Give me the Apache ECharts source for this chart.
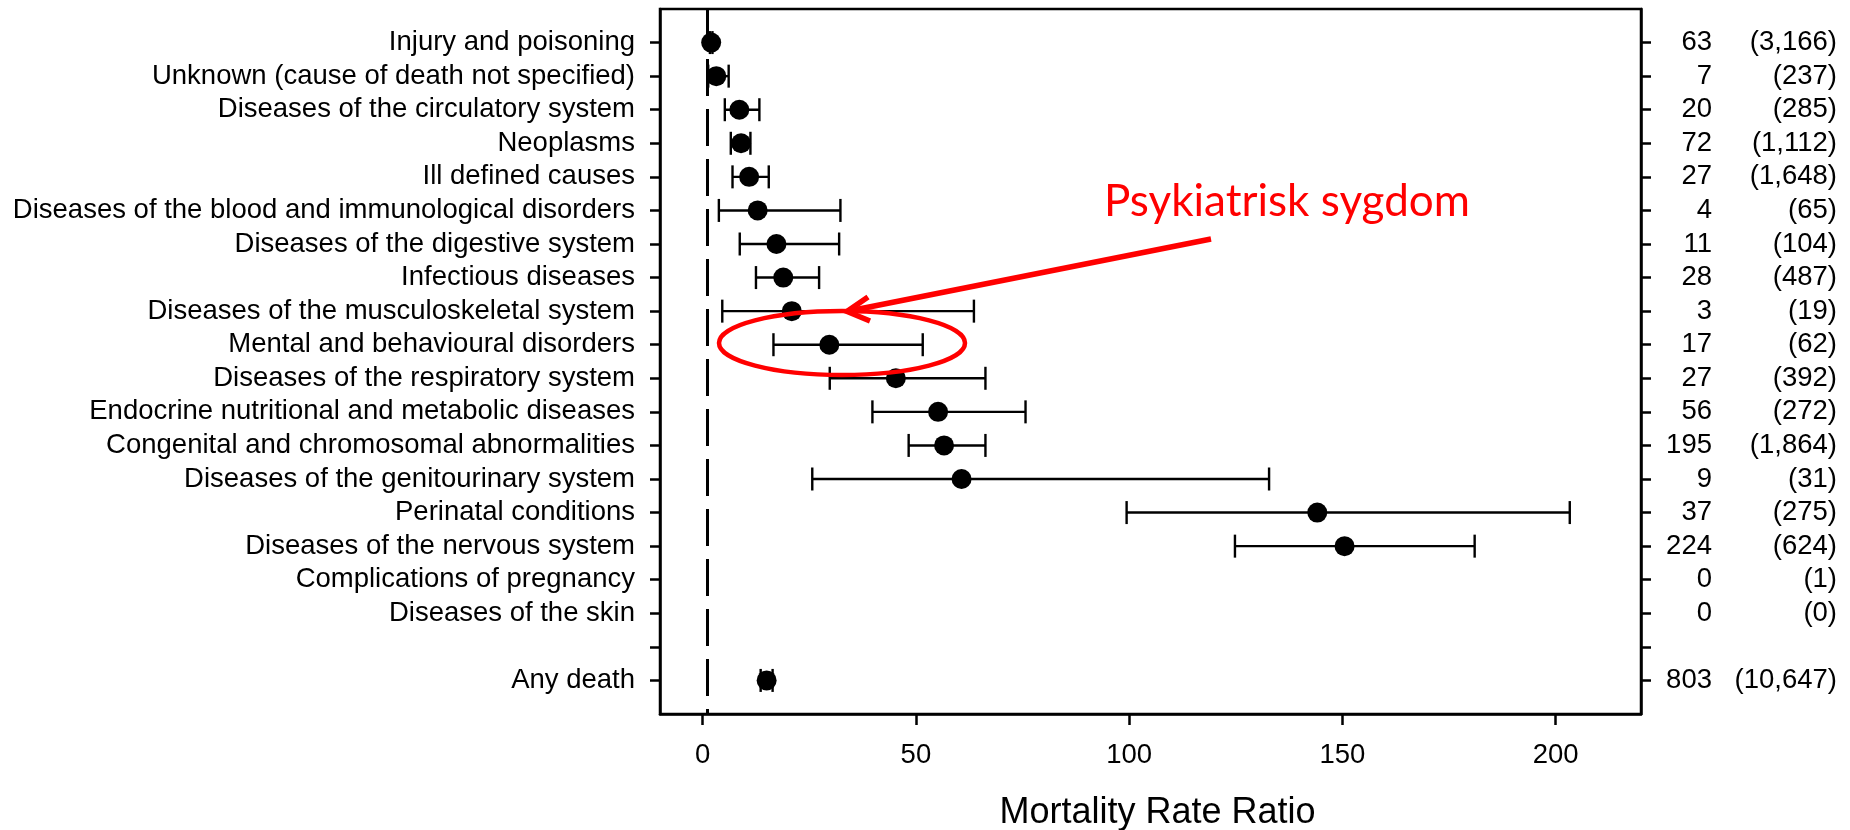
<!DOCTYPE html>
<html>
<head>
<meta charset="utf-8">
<script src="https://cdn.jsdelivr.net/npm/echarts@6/dist/echarts.min.js"></script>
<style>
  html, body { margin: 0; padding: 0; background: #fff; }
  #chart { width: 1850px; height: 830px; }
</style>
</head>
<body>
<div id="chart"></div>
<script>
// rows from top to bottom (row 19 is an empty spacer)
const causes = [
  'Injury and poisoning',
  'Unknown (cause of death not specified)',
  'Diseases of the circulatory system',
  'Neoplasms',
  'Ill defined causes',
  'Diseases of the blood and immunological disorders',
  'Diseases of the digestive system',
  'Infectious diseases',
  'Diseases of the musculoskeletal system',
  'Mental and behavioural disorders',
  'Diseases of the respiratory system',
  'Endocrine nutritional and metabolic diseases',
  'Congenital and chromosomal abnormalities',
  'Diseases of the genitourinary system',
  'Perinatal conditions',
  'Diseases of the nervous system',
  'Complications of pregnancy',
  'Diseases of the skin',
  '',
  'Any death'
]
const deaths = ['63', '7', '20', '72', '27', '4', '11', '28', '3', '17', '27', '56', '195', '9', '37', '224', '0', '0', '', '803']
const refDeaths = ['(3,166)', '(237)', '(285)', '(1,112)', '(1,648)', '(65)', '(104)', '(487)', '(19)', '(62)', '(392)', '(272)', '(1,864)', '(31)', '(275)', '(624)', '(1)', '(0)', '', '(10,647)']

// mortality rate ratio with 95% CI
const mrr   = [2.0, 3.2, 8.6, 9.0, 10.9, 12.9, 17.3, 18.9, 20.9, 29.7, 45.3, 55.2, 56.6, 60.7, 144.1, 150.5, null, null, null, 15.0]
const lower = [1.7, 1.3, 5.2, 6.6, 7.0, 3.8, 8.7, 12.5, 4.6, 16.6, 29.8, 39.8, 48.3, 25.7, 99.4, 124.8, null, null, null, 13.6]
const upper = [2.3, 6.1, 13.3, 11.2, 15.5, 32.3, 32.0, 27.3, 63.6, 51.6, 66.3, 75.7, 66.3, 132.8, 203.3, 181.0, null, null, null, 16.4]

const xTicks = [0, 50, 100, 150, 200]
const rowTicks = causes.map((c, i) => i + 1)

const pointData = []
const ciData = []
mrr.forEach((v, i) => {
  if (v == null) return
  pointData.push([v, i + 1])
  ciData.push([lower[i], upper[i], i + 1])
})

const chart = echarts.init(document.getElementById('chart'), null, { renderer: 'canvas' })

const font = 'Liberation Sans, Arial, sans-serif'
const axisBase = {
  type: 'value',
  min: 0,
  max: 21,
  inverse: true,
  splitLine: { show: false },
  axisLine: { show: true, onZero: false, lineStyle: { color: '#000', width: 2.5 } },
  axisTick: { show: true, length: 10, customValues: rowTicks, lineStyle: { color: '#000', width: 2.5 } }
}

const option = {
  backgroundColor: '#fff',
  animation: false,
  grid: {
    left: 660, right: 209, top: 9, bottom: 116,
    outerBoundsMode: 'none',
    containLabel: false,
    show: true, borderColor: '#000', borderWidth: 2.5
  },
  xAxis: {
    type: 'value',
    min: -10,
    max: 220,
    splitLine: { show: false },
    axisLine: { show: true, onZero: false, lineStyle: { color: '#000', width: 2.5 } },
    axisTick: { show: true, length: 11, customValues: xTicks, lineStyle: { color: '#000', width: 2.5 } },
    axisLabel: { customValues: xTicks, margin: 27, fontSize: 27.5, fontFamily: font, color: '#000' },
    name: 'Mortality Rate Ratio',
    nameLocation: 'middle',
    nameGap: 81,
    nameTextStyle: { fontSize: 36, fontFamily: font, color: '#000', padding: [0, 0, 0, 14] }
  },
  yAxis: [
    Object.assign({}, axisBase, {
      position: 'left',
      axisLabel: {
        customValues: rowTicks, margin: 25, fontSize: 27.5, fontFamily: font, color: '#000',
        formatter: v => causes[v - 1] || ''
      }
    }),
    Object.assign({}, axisBase, {
      position: 'right',
      axisLabel: {
        customValues: rowTicks, margin: 24, fontSize: 27.5, fontFamily: font, color: '#000',
        formatter: v => deaths[v - 1] ? '{a|' + deaths[v - 1] + '}{b|' + refDeaths[v - 1] + '}' : '',
        rich: {
          a: { width: 47, align: 'right', fontSize: 27.5, fontFamily: font, color: '#000' },
          b: { width: 125, align: 'right', fontSize: 27.5, fontFamily: font, color: '#000' }
        }
      }
    })
  ],
  series: [
    {
      type: 'custom',
      name: 'CI',
      data: ciData,
      encode: { x: [0, 1], y: 2 },
      renderItem: (params, api) => {
        const a = api.coord([api.value(0), api.value(2)])
        const b = api.coord([api.value(1), api.value(2)])
        const h = 11.5
        const style = { stroke: '#000', lineWidth: 2.4 }
        return {
          type: 'group',
          children: [
            { type: 'line', shape: { x1: a[0], y1: a[1], x2: b[0], y2: b[1] }, style },
            { type: 'line', shape: { x1: a[0], y1: a[1] - h, x2: a[0], y2: a[1] + h }, style },
            { type: 'line', shape: { x1: b[0], y1: b[1] - h, x2: b[0], y2: b[1] + h }, style }
          ]
        }
      }
    },
    {
      type: 'scatter',
      name: 'MRR',
      data: pointData,
      symbol: 'circle',
      symbolSize: 20,
      itemStyle: { color: '#000', opacity: 1 },
      markLine: {
        silent: true,
        symbol: ['none', 'none'],
        label: { show: false },
        lineStyle: { color: '#000', width: 3, type: [37, 13] },
        data: [{ xAxis: 1 }]
      }
    }
  ],
  // red annotation drawn on top of the figure
  graphic: [
    {
      type: 'ellipse',
      shape: { cx: 842, cy: 343, rx: 123, ry: 32 },
      style: { fill: null, stroke: '#ff0000', lineWidth: 4.5 },
      z: 100
    },
    {
      type: 'polyline',
      shape: { points: [[1211, 239], [849, 311]] },
      style: { stroke: '#ff0000', lineWidth: 5.5 },
      z: 100
    },
    {
      type: 'polyline',
      shape: { points: [[868, 297], [847, 311.5], [870, 321]] },
      style: { stroke: '#ff0000', lineWidth: 5.5, lineJoin: 'miter' },
      z: 100
    },
    {
      type: 'text',
      x: 1104,
      y: 202,
      style: {
        text: 'Psykiatrisk sygdom',
        fill: '#ff0000',
        font: '44px Lato, sans-serif',
        verticalAlign: 'middle'
      },
      z: 100
    }
  ]
}

chart.setOption(option)
</script>
</body>
</html>
